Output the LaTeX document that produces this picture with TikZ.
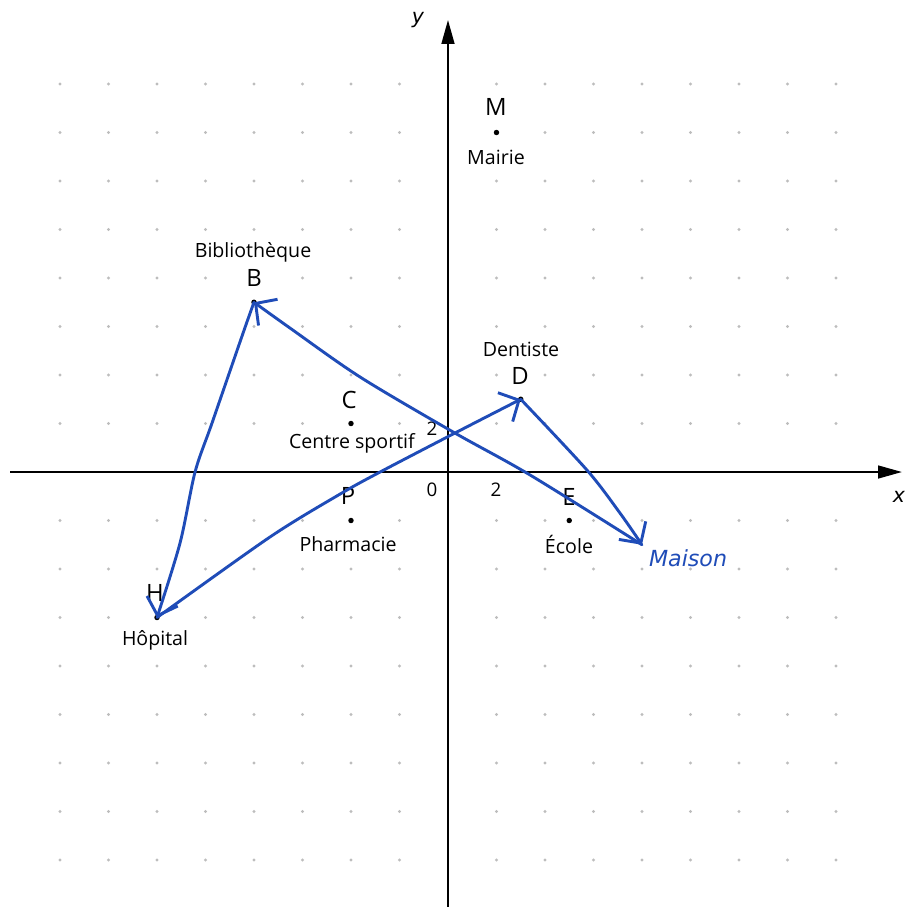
\documentclass[tikz,border=0pt]{standalone}
\usepackage{fontspec}
\setmainfont{Open Sans}
\newfontfamily\handfont{DejaVu Sans}
\usetikzlibrary{arrows.meta}
\definecolor{ink}{HTML}{1F4CB8}
\definecolor{dotgray}{HTML}{BDBDBD}
\begin{document}
\begin{tikzpicture}[x=0.5cm,y=0.5cm,
  pt/.style={circle,fill=black,inner sep=0pt,minimum size=3.2pt},
  letter/.style={inner sep=0pt,font=\fontsize{14}{16}\selectfont},
  place/.style={inner sep=0pt,font=\fontsize{11.5}{13}\selectfont},
  ticklab/.style={inner sep=0pt,font=\fontsize{11}{13}\selectfont},
  axlab/.style={inner sep=0pt,font=\handfont\itshape\fontsize{12}{14}\selectfont},
  axisline/.style={line width=1.2pt,-{Triangle[length=14pt,width=7.5pt]}},
  hand/.style={draw=ink,line width=1.7pt,line cap=round,line join=round,
    -{Straight Barb[length=9pt,width=19pt,line width=1.7pt]}},
  handtext/.style={inner sep=0pt,text=ink,font=\handfont\itshape\fontsize{13}{15}\selectfont}]
\fill[white] (-18.474,-17.897) rectangle (18.928,19.464);
\useasboundingbox (-18.474,-17.897) rectangle (18.928,19.464);
% dotted grid
\foreach \i in {-16,-14,...,16}{
  \foreach \j in {-16,-14,...,16}{
    \ifnum\i=0 \else \ifnum\j=0 \else
      \fill[dotgray] (\i,\j) circle (0.95pt);
    \fi\fi
  }
}
% axes
\coordinate (xs) at (-18.06,0);
\coordinate (xe) at (18.72,0);
\coordinate (ys) at (0,-18);
\coordinate (ye) at (0,18.64);
\draw[axisline] (xs) -- (xe);
\draw[axisline] (ys) -- (ye);
\node[axlab] (xlab) at (18.6,-1.03) {x};
\node[axlab] (ylab) at (-1.24,18.64) {y};
\node[ticklab] (t0) at (-0.66,-0.74) {0};
\node[ticklab] (tx2) at (1.98,-0.74) {2};
\node[ticklab] (ty2) at (-0.66,1.77) {2};
% points
\node[pt] (M) at (2,14) {};
\node[letter] (Ml) at (1.98,15.05) {M};
\node[place] (Mn) at (1.98,12.99) {Mairie};
\node[pt] (B) at (-8,7) {};
\node[letter] (Bl) at (-8,8.0) {B};
\node[place] (Bn) at (-8.04,9.07) {Bibliothèque};
\node[pt] (C) at (-4,2) {};
\node[letter] (Cl) at (-4.08,2.97) {C};
\node[place] (Cn) at (-3.96,1.2) {Centre sportif};
\node[pt] (D) at (3,3) {};
\node[letter] (Dl) at (2.97,3.96) {D};
\node[place] (Dn) at (3.01,5.07) {Dentiste};
\node[pt] (E) at (5,-2) {};
\node[letter] (El) at (4.99,-1.03) {E};
\node[place] (En) at (4.99,-2.97) {École};
\node[pt] (P) at (-4,-2) {};
\node[letter] (Pl) at (-4.12,-0.99) {P};
\node[place] (Pn) at (-4.12,-2.97) {Pharmacie};
\node[pt] (H) at (-12,-6) {};
\node[letter] (Hl) at (-12.08,-4.99) {H};
\node[place] (Hn) at (-12.08,-6.93) {Hôpital};
\coordinate (Maison) at (8,-3);
\node[handtext] (Mai) at (9.9,-3.55) {Maison};
% hand-drawn route
\draw[hand] plot[smooth,tension=0.5] coordinates {(Maison) (3.38,-0.12) (0.21,1.65) (-3.63,3.92) (-6.52,5.94) (B.center)};
\draw[hand] plot[smooth,tension=0.5] coordinates {(B.center) (-8.45,5.73) (-9.73,2.02) (-10.43,0) (-11.05,-2.93) (H.center)};
\draw[hand] plot[smooth,tension=0.5] coordinates {(H.center) (-7.34,-2.68) (-4.45,-0.91) (-2.8,0) (0.37,1.65) (D.center)};
\draw[hand] plot[smooth,tension=0.5] coordinates {(D.center) (5.73,0.08) (7.09,-1.69) (Maison)};
\end{tikzpicture}
\end{document}
